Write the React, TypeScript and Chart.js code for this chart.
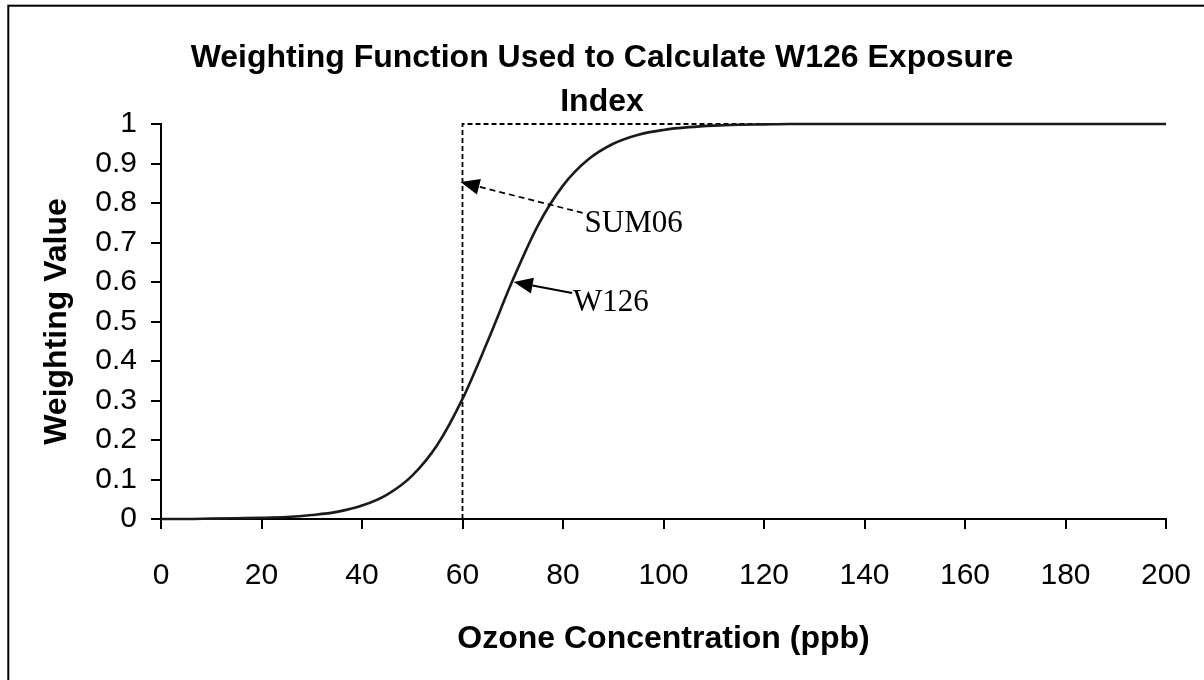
import React, { useEffect, useRef } from 'react';
import { Chart, registerables } from 'chart.js';

Chart.register(...registerables);

// Ozone concentration (ppb) and W126 weighting value
const ozonePpb = [0, 5, 10, 15, 20, 25, 30, 35, 40, 45, 50, 55, 60, 65, 70, 75, 80, 85, 90, 95, 100, 105, 110, 115, 120, 125, 130, 140, 150, 160, 170, 180, 190, 200];
const w126Weight = [0.0, 0.0, 0.001, 0.002, 0.003, 0.005, 0.01, 0.018, 0.034, 0.062, 0.11, 0.188, 0.304, 0.45, 0.605, 0.743, 0.844, 0.91, 0.95, 0.973, 0.985, 0.992, 0.996, 0.998, 0.999, 1.0, 1.0, 1.0, 1.0, 1.0, 1.0, 1.0, 1.0, 1.0];

// SUM06 step function (0 below 60 ppb, 1 at and above)
const sum06X = [60, 60, 200];
const sum06Y = [0, 1, 1];

const xTickLabels = ['0', '20', '40', '60', '80', '100', '120', '140', '160', '180', '200'];
const yTickLabels = ['0', '0.1', '0.2', '0.3', '0.4', '0.5', '0.6', '0.7', '0.8', '0.9', '1'];

// Annotations (data coordinates)
const annotationLabels = ['SUM06', 'W126'];
const annotationTextX = [84.3, 82.0];
const annotationTextY = [0.727, 0.527];
const arrowTailX = [83.9, 81.8];
const arrowTailY = [0.775, 0.572];
const arrowTipX = [59.6, 70.2];
const arrowTipY = [0.853, 0.6];
const arrowDashed = [true, false];

const framePlugin = {
  id: 'frame',
  beforeDraw(chart: any) {
    const { ctx, width, height } = chart;
    ctx.save();
    ctx.fillStyle = '#ffffff';
    ctx.fillRect(0, 0, width, height);
    ctx.strokeStyle = '#000000';
    ctx.lineWidth = 2;
    ctx.strokeRect(8.3, 5.7, width + 100, height + 100);
    ctx.restore();
  },
};

const annotationPlugin = {
  id: 'arrowAnnotations',
  afterDatasetsDraw(chart: any) {
    const { ctx } = chart;
    const xs = chart.scales.x;
    const ys = chart.scales.y;
    ctx.save();
    annotationLabels.forEach((label, i) => {
      const x0 = xs.getPixelForValue(arrowTailX[i]);
      const y0 = ys.getPixelForValue(arrowTailY[i]);
      const x1 = xs.getPixelForValue(arrowTipX[i]);
      const y1 = ys.getPixelForValue(arrowTipY[i]);
      const ang = Math.atan2(y1 - y0, x1 - x0);
      const headLen = 19;
      const headHalf = 8;
      const bx = x1 - headLen * Math.cos(ang);
      const by = y1 - headLen * Math.sin(ang);
      ctx.strokeStyle = '#000';
      ctx.lineWidth = arrowDashed[i] ? 1.7 : 2;
      ctx.setLineDash(arrowDashed[i] ? [6, 4] : []);
      ctx.beginPath();
      ctx.moveTo(x0, y0);
      ctx.lineTo(bx, by);
      ctx.stroke();
      ctx.setLineDash([]);
      ctx.beginPath();
      ctx.moveTo(x1, y1);
      ctx.lineTo(bx + headHalf * Math.sin(ang), by - headHalf * Math.cos(ang));
      ctx.lineTo(bx - headHalf * Math.sin(ang), by + headHalf * Math.cos(ang));
      ctx.closePath();
      ctx.fillStyle = '#000';
      ctx.fill();
      ctx.font = '31px "Liberation Serif"';
      ctx.textAlign = 'left';
      ctx.textBaseline = 'alphabetic';
      ctx.fillText(label, xs.getPixelForValue(annotationTextX[i]), ys.getPixelForValue(annotationTextY[i]));
    });
    ctx.restore();
  },
};

export default function App() {
  const canvasRef = useRef<HTMLCanvasElement | null>(null);

  useEffect(() => {
    if (!canvasRef.current) return;
    const chart = new Chart(canvasRef.current, {
      type: 'line',
      data: {
        datasets: [
          {
            label: 'W126',
            data: ozonePpb.map((v, i) => ({ x: v, y: w126Weight[i] })),
            borderColor: '#1a1a1a',
            borderWidth: 2.6,
            pointRadius: 0,
            cubicInterpolationMode: 'monotone',
            fill: false,
            clip: false,
          },
          {
            label: 'SUM06',
            data: sum06X.map((v, i) => ({ x: v, y: sum06Y[i] })),
            borderColor: '#000',
            borderWidth: 1.8,
            borderDash: [5, 3],
            pointRadius: 0,
            tension: 0,
            fill: false,
            clip: false,
          },
        ],
      } as any,
      options: {
        responsive: false,
        animation: false,
        devicePixelRatio: 1,
        layout: { padding: 0 },
        font: { family: '"Liberation Sans", Arial, sans-serif' },
        plugins: {
          legend: { display: false },
          tooltip: { enabled: false },
          title: {
            display: true,
            text: ['Weighting Function Used to Calculate W126 Exposure', 'Index'],
            color: '#000',
            font: { family: '"Liberation Sans", Arial, sans-serif', size: 32, weight: 'bold', lineHeight: 1.375 },
            padding: { top: 36, bottom: 0 },
          },
        },
        scales: {
          x: {
            type: 'linear',
            min: 0,
            max: 200,
            ticks: {
              stepSize: 20,
              autoSkip: false,
              maxRotation: 0,
              color: '#000',
              padding: 29,
              font: { family: '"Liberation Sans", Arial, sans-serif', size: 30 },
              callback: (_v: any, i: number) => xTickLabels[i],
            },
            grid: { drawOnChartArea: false, drawTicks: true, tickLength: 10, lineWidth: 2, color: '#000' },
            border: { display: true, color: '#000', width: 2 },
            title: {
              display: true,
              text: 'Ozone Concentration (ppb)',
              color: '#000',
              font: { family: '"Liberation Sans", Arial, sans-serif', size: 32, weight: 'bold', lineHeight: 1.2 },
              padding: { top: 0, bottom: 22 },
            },
            afterFit: (s: any) => {
              s.height = 161;
              s.paddingLeft = 0;
              s.paddingRight = 0;
            },
          },
          y: {
            type: 'linear',
            min: 0,
            max: 1,
            ticks: {
              stepSize: 0.1,
              autoSkip: false,
              color: '#000',
              padding: 14,
              font: { family: '"Liberation Sans", Arial, sans-serif', size: 30 },
              callback: (_v: any, i: number) => yTickLabels[i],
            },
            grid: { drawOnChartArea: false, drawTicks: true, tickLength: 10, lineWidth: 2, color: '#000' },
            border: { display: true, color: '#000', width: 2 },
            title: {
              display: true,
              text: 'Weighting Value',
              color: '#000',
              font: { family: '"Liberation Sans", Arial, sans-serif', size: 32, weight: 'bold', lineHeight: 1.2 },
              padding: { top: 38, bottom: 0 },
            },
            afterFit: (s: any) => {
              s.width = 161;
              s.paddingTop = 0;
              s.paddingBottom = 0;
            },
          },
          y2: {
            type: 'linear',
            position: 'right',
            min: 0,
            max: 1,
            display: true,
            ticks: { display: false },
            grid: { display: false, drawTicks: false },
            border: { display: false },
            afterFit: (s: any) => {
              s.width = 38;
              s.paddingTop = 0;
              s.paddingBottom = 0;
            },
          },
        },
      } as any,
      plugins: [framePlugin, annotationPlugin],
    });
    return () => chart.destroy();
  }, []);

  return (
    <div style={{ position: 'fixed', left: 0, top: 0, width: 1204, height: 680, background: '#fff', overflow: 'hidden' }}>
      <canvas ref={canvasRef} width={1204} height={680} style={{ display: 'block', width: 1204, height: 680 }} />
    </div>
  );
}
